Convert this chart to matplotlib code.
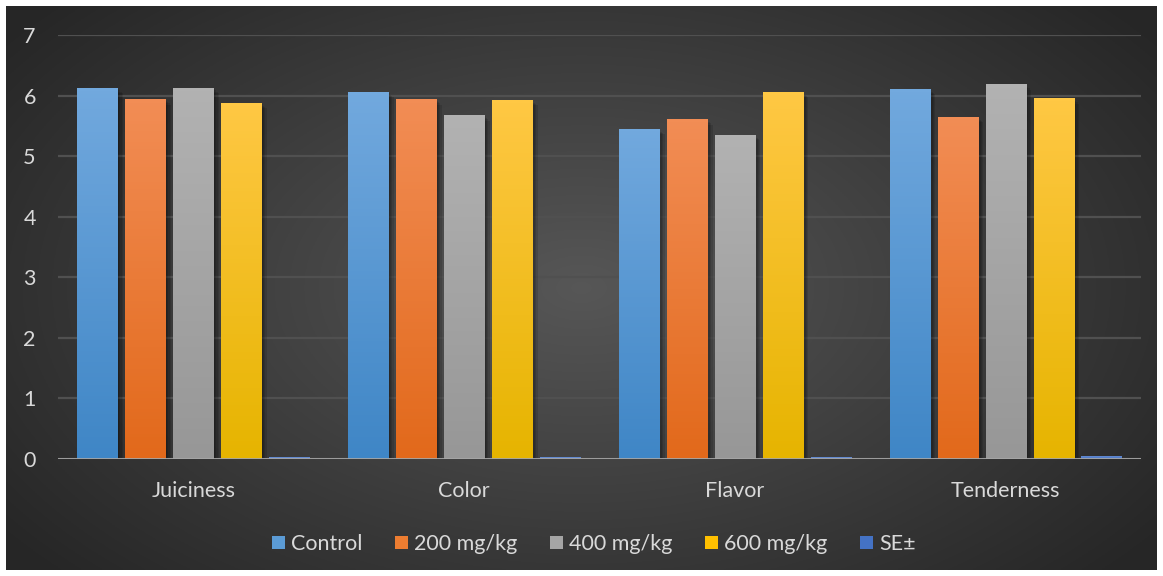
import numpy as np
import matplotlib.pyplot as plt
from matplotlib.patches import Patch
import matplotlib.patheffects as pe

plt.rcParams['font.family'] = ['Lato', 'DejaVu Sans']

categories = ['Juiciness', 'Color', 'Flavor', 'Tenderness']
series = ['Control', '200 mg/kg', '400 mg/kg', '600 mg/kg', 'SE\u00b1']
control = [6.13, 6.06, 5.45, 6.11]
mg200 = [5.94, 5.94, 5.61, 5.65]
mg400 = [6.13, 5.68, 5.35, 6.19]
mg600 = [5.88, 5.93, 6.06, 5.96]
se = [0.03, 0.03, 0.03, 0.05]
values = [control, mg200, mg400, mg600, se]

# (top colour, bottom colour) for the vertical gradients
colors = [('#72a9de', '#3f86c6'),
          ('#f28d55', '#e2691b'),
          ('#b2b2b2', '#979797'),
          ('#ffc844', '#e6b400'),
          ('#6f93d6', '#4472c4')]
legend_colors = ['#5b9bd5', '#ed7d31', '#a5a5a5', '#ffc000', '#4472c4']

fig = plt.figure(figsize=(11.63, 5.76), dpi=100, facecolor='white')

# radial background
bg = fig.add_axes([6/1163, 6/576, 1151/1163, 564/576])
bg.axis('off')
yy, xx = np.mgrid[-1:1:300j, -1:1:600j]
r = np.sqrt((xx / 1.0) ** 2 + (yy / 1.2) ** 2)
r = np.clip(r / 1.25, 0, 1)
shade = 0.34 - 0.19 * r
bg.imshow(np.dstack([shade, shade, shade]), aspect='auto', extent=[0, 1, 0, 1])
bg.set_xlim(0, 1)
bg.set_ylim(0, 1)

ax = fig.add_axes([58/1163, (576-459)/576, (1141-58)/1163, (459-35)/576])
ax.patch.set_alpha(0)

x = np.arange(len(categories))
width = 0.148
step = 0.177
grad = np.linspace(1, 0, 100).reshape(-1, 1)

shadow = [pe.SimplePatchShadow(offset=(o, -o), alpha=0.12, shadow_rgbFace='black') for o in (1, 2, 3, 4)]

for i, (vals, (ctop, cbot)) in enumerate(zip(values, colors)):
    pos = x + (i - 2) * step
    bars = ax.bar(pos, vals, width, color=cbot, zorder=3,
                  path_effects=shadow + [pe.Normal()])
    t = np.array(plt.matplotlib.colors.to_rgb(ctop))
    b = np.array(plt.matplotlib.colors.to_rgb(cbot))
    img = grad[..., None] * t + (1 - grad[..., None]) * b
    for bar in bars:
        bx, by = bar.get_x(), bar.get_y()
        im = ax.imshow(img, extent=[bx, bx + bar.get_width(), by, by + bar.get_height()],
                       aspect='auto', zorder=4)
        im.set_clip_path(bar)

ax.set_xlim(-0.5, 3.5)
ax.set_ylim(0, 7)
ax.set_yticks(range(0, 8))
ax.set_xticks(x)
ax.set_xticklabels(categories)
ax.grid(axis='y', color='#505050', linewidth=1.6, zorder=0)
ax.axhline(0, color='#a6a6a6', linewidth=2, zorder=5)
for s in ax.spines.values():
    s.set_visible(False)
ax.tick_params(length=0, colors='#d9d9d9', labelsize=15.5)
ax.tick_params(axis='x', pad=16)
ax.tick_params(axis='y', pad=16)

handles = [Patch(facecolor=c, edgecolor='none') for c in legend_colors]
leg = fig.legend(handles, series, loc='center', bbox_to_anchor=(594/1163, 1 - 544/576),
                 ncol=5, frameon=False, fontsize=15.5, handlelength=0.6, handleheight=0.6,
                 handletextpad=0.3, columnspacing=1.5)
for t in leg.get_texts():
    t.set_color('#d9d9d9')

fig.savefig('out.png', dpi=100, facecolor='white')
